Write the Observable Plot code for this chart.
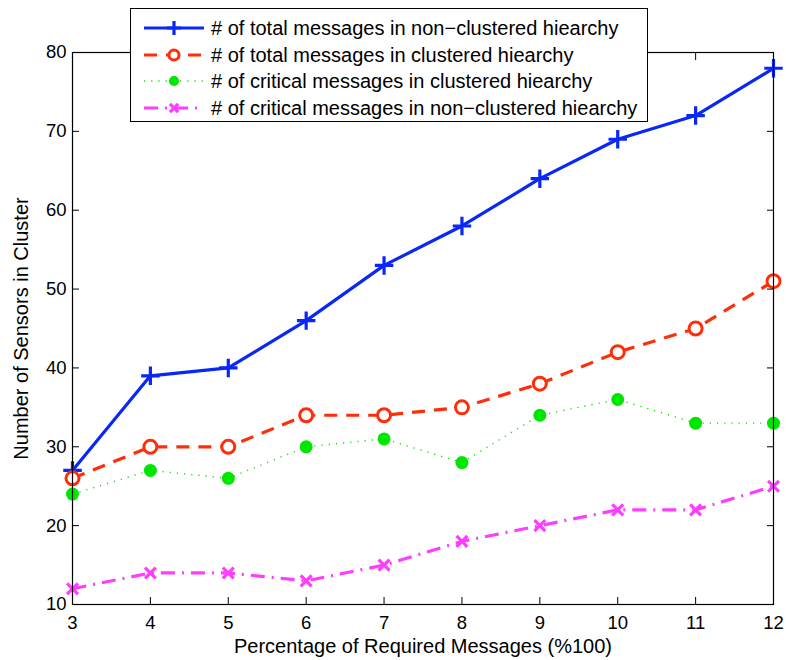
<!DOCTYPE html>
<html>
<head>
<meta charset="utf-8">
<script src="https://cdn.jsdelivr.net/npm/d3@7"></script>
<script src="https://cdn.jsdelivr.net/npm/@observablehq/plot@0.6"></script>
<style>
  html, body { margin: 0; padding: 0; background: #fff; }
  #wrap { position: relative; width: 786px; height: 660px; font-family: "Liberation Sans", Arial, sans-serif; }
  #legend { position: absolute; left: 130px; top: 8px; width: 518px; height: 114px; border: 1.5px solid #000; background: #fff; box-sizing: border-box; }
  .row { position: absolute; left: 0; height: 26px; display: flex; align-items: center; }
  .row svg { flex: none; }
  .row span { font-size: 20px; color: #000; margin-left: 6px; white-space: nowrap; }
</style>
</head>
<body>
<div id="wrap"></div>
<script>
const xValues = [3, 4, 5, 6, 7, 8, 9, 10, 11, 12];
const totalNonClustered = [27, 39, 40, 46, 53, 58, 64, 69, 72, 78];
const totalClustered = [26, 30, 30, 34, 34, 35, 38, 42, 45, 51];
const criticalClustered = [24, 27, 26, 30, 31, 28, 34, 36, 33, 33];
const criticalNonClustered = [12, 14, 14, 13, 15, 18, 20, 22, 22, 25];
const xTicks = [3, 4, 5, 6, 7, 8, 9, 10, 11, 12];
const yTicks = [10, 20, 30, 40, 50, 60, 70, 80];

const seriesNames = [
  "# of total messages in non\u2212clustered hiearchy",
  "# of total messages in clustered hiearchy",
  "# of critical messages in clustered hiearchy",
  "# of critical messages in non\u2212clustered hiearchy"
];
const styles = [
  {color: "#0a28f5", width: 3.2, dash: null, symbol: "plus", fill: "none", r: 6, sw: 3.2},
  {color: "#ff2e0a", width: 3.2, dash: "13,9", symbol: "circle", fill: "white", r: 6.5, sw: 3},
  {color: "#00e600", width: 1.4, dash: "1.2,6", symbol: "circle", fill: "#00e600", r: 6.5, sw: 0},
  {color: "#ff3dff", width: 3.2, dash: "14,7,2,7", symbol: "times", fill: "none", r: 5, sw: 3.2}
];
const seriesValues = [totalNonClustered, totalClustered, criticalClustered, criticalNonClustered];

const marks = [];
seriesValues.forEach((vals, i) => {
  const data = xValues.map((x, j) => ({x, y: vals[j]}));
  const s = styles[i];
  marks.push(Plot.line(data, {x: "x", y: "y", stroke: s.color, strokeWidth: s.width, strokeDasharray: s.dash, strokeLinecap: "butt", strokeLinejoin: "round"}));
});
seriesValues.forEach((vals, i) => {
  const data = xValues.map((x, j) => ({x, y: vals[j]}));
  const s = styles[i];
  marks.push(Plot.dot(data, {x: "x", y: "y", symbol: s.symbol, r: s.r, stroke: s.sw ? s.color : "none", strokeWidth: s.sw, fill: s.fill}));
});

const chart = Plot.plot({
  width: 786,
  height: 660,
  marginLeft: 72,
  marginRight: 13,
  marginTop: 52,
  marginBottom: 56,
  style: {fontFamily: "Liberation Sans, Arial, sans-serif", fontSize: "18px", background: "white", color: "black"},
  x: {domain: [3, 12], ticks: xTicks},
  y: {domain: [10, 80], ticks: yTicks},
  marks: [
    ...marks,
    Plot.frame({stroke: "black", strokeWidth: 1.2}),
    Plot.axisX(xTicks, {anchor: "bottom", tickSize: 0, tickPadding: 11, fontSize: 18.5, label: null}),
    Plot.axisX(xTicks, {anchor: "bottom", tickSize: -7, text: null, label: "Percentage of Required Messages (%100)", labelAnchor: "center", labelArrow: "none", labelOffset: 48, fontSize: 20}),
    Plot.axisX(xTicks, {anchor: "top", tickSize: -7, text: null, label: null}),
    Plot.axisY(yTicks, {anchor: "left", tickSize: 0, tickPadding: 6, fontSize: 18.5, label: null}),
    Plot.axisY(yTicks, {anchor: "left", tickSize: -7, text: null, label: "Number of Sensors in Cluster", labelAnchor: "center", labelArrow: "none", labelOffset: 59, fontSize: 20}),
    Plot.axisY(yTicks, {anchor: "right", tickSize: -7, text: null, label: null})
  ]
});

const wrap = document.getElementById("wrap");
wrap.appendChild(chart);

const legend = document.createElement("div");
legend.id = "legend";
const tops = [6, 33, 59, 86];
seriesNames.forEach((name, i) => {
  const s = styles[i];
  const row = document.createElement("div");
  row.className = "row";
  row.style.top = tops[i] + "px";
  row.style.left = "12px";
  const ns = "http://www.w3.org/2000/svg";
  const svg = document.createElementNS(ns, "svg");
  svg.setAttribute("width", 62); svg.setAttribute("height", 26);
  const ln = document.createElementNS(ns, "line");
  ln.setAttribute("x1", 1); ln.setAttribute("x2", 61); ln.setAttribute("y1", 13); ln.setAttribute("y2", 13);
  ln.setAttribute("stroke", s.color); ln.setAttribute("stroke-width", s.width);
  if (s.dash) ln.setAttribute("stroke-dasharray", s.dash);
  svg.appendChild(ln);
  const sym = d3.symbol(s.symbol === "plus" ? d3.symbolPlus : s.symbol === "times" ? d3.symbolTimes : d3.symbolCircle, Math.PI * s.r * s.r * 0.6)();
  const p = document.createElementNS(ns, "path");
  p.setAttribute("d", sym);
  p.setAttribute("transform", "translate(31,13)");
  p.setAttribute("fill", s.fill);
  if (s.sw) { p.setAttribute("stroke", s.color); p.setAttribute("stroke-width", s.sw); }
  svg.appendChild(p);
  row.appendChild(svg);
  const span = document.createElement("span");
  span.textContent = name;
  row.appendChild(span);
  legend.appendChild(row);
});
wrap.appendChild(legend);
</script>
</body>
</html>
